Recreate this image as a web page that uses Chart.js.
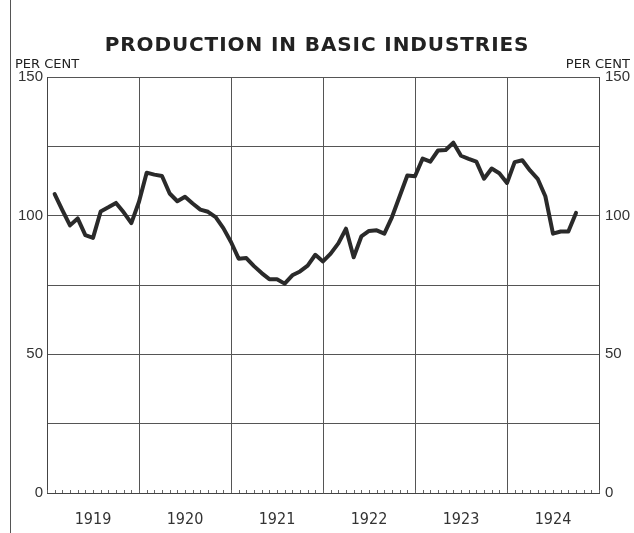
<!DOCTYPE html>
<html>
<head>
<meta charset="utf-8">
<script src="https://cdn.jsdelivr.net/npm/chart.js@4"></script>
<style>
  html, body { margin:0; padding:0; background:#fff; }
  #wrap { position:relative; width:634px; height:533px; overflow:hidden; }
  #edge { position:absolute; left:10px; top:0; width:1px; height:533px; background:#555; }
  .title { position:absolute; left:0; width:634px; top:32px; text-align:center; font:bold 20px "DejaVu Sans"; letter-spacing:0.9px; color:#222; }
  .unit { position:absolute; top:56px; font:13px "DejaVu Sans"; color:#222; }
  canvas { position:absolute; left:0; top:0; }
</style>
</head>
<body>
<div id="wrap">
  <div id="edge"></div>
  <canvas id="chart" width="634" height="533"></canvas>
  <div class="title">PRODUCTION IN BASIC INDUSTRIES</div>
  <div class="unit" style="left:15px">PER CENT</div>
  <div class="unit" style="right:4px">PER CENT</div>
</div>
<script>
// monthly index, 1919 = months 1..12, plotted at month end
const years = ['1919', '1920', '1921', '1922', '1923', '1924']
const firstMonth = 1
const production = [
  107.8, 102, 96.5, 99, 93, 92, 101.5, 103, 104.6, 101.2, 97.3, 105,      // 1919
  115.5, 114.8, 114.3, 108, 105.2, 106.8, 104.4, 102.2, 101.4, 99.5, 95.5, 90.5, // 1920
  84.5, 84.7, 81.8, 79.3, 77.1, 77.1, 75.5, 78.5, 79.9, 82, 85.9, 83.5,  // 1921
  86.3, 90, 95.3, 85, 92.5, 94.5, 94.7, 93.5, 99.5, 107, 114.5, 114.2,   // 1922
  120.6, 119.5, 123.5, 123.7, 126.3, 121.6, 120.5, 119.5, 113.3, 117, 115.3, 111.8, // 1923
  119.3, 120, 116.3, 113.3, 107, 93.5, 94.3, 94.3, 101                   // 1924
]
const yLabels = [0, 50, 100, 150]

const points = production.map((v, i) => ({ x: firstMonth + i, y: v }))

// short month ticks on the base line
const monthTicks = {
  id: 'monthTicks',
  afterDatasetsDraw(chart) {
    const { ctx, scales: { x }, chartArea } = chart
    ctx.save()
    ctx.strokeStyle = '#666'
    ctx.lineWidth = 1
    for (let m = 0; m <= years.length * 12; m++) {
      const px = Math.round(x.getPixelForValue(m)) + 0.5
      ctx.beginPath()
      ctx.moveTo(px, chartArea.bottom)
      ctx.lineTo(px, chartArea.bottom - 3)
      ctx.stroke()
    }
    ctx.restore()
  }
}

const tickFont = { family: 'Liberation Sans', size: 15 }
const yTicks = {
  stepSize: 25, color: '#333', font: tickFont, padding: 4,
  callback: v => yLabels.includes(v) ? String(v) : ''
}

new Chart(document.getElementById('chart'), {
  type: 'line',
  data: {
    datasets: [{
      data: points,
      borderColor: '#2a2a2a', borderWidth: 4,
      borderJoinStyle: 'round', borderCapStyle: 'round',
      pointRadius: 0, tension: 0, fill: false
    }]
  },
  options: {
    responsive: false, animation: false,
    layout: { padding: { top: 77, left: 0, right: 0, bottom: 0 } },
    plugins: { legend: { display: false }, tooltip: { enabled: false } },
    scales: {
      x: {
        type: 'linear', min: 0, max: years.length * 12,
        afterFit: s => { s.height = 40 },
        border: { color: '#444' },
        grid: {
          color: c => c.tick && c.tick.value % 12 === 0 ? '#555' : 'rgba(0,0,0,0)',
          drawTicks: false
        },
        ticks: {
          stepSize: 1, autoSkip: false, maxRotation: 0, padding: 17,
          color: '#333', font: { family: "'DejaVu Sans Condensed', 'DejaVu Sans'", size: 16 },
          callback: v => v % 12 === 6 ? years[(v - 6) / 12] : ''
        }
      },
      y: {
        position: 'left', min: 0, max: 150,
        afterFit: s => { s.width = 47 },
        border: { color: '#444' },
        grid: { color: '#555', drawTicks: false },
        ticks: yTicks
      },
      y2: {
        position: 'right', min: 0, max: 150,
        afterFit: s => { s.width = 35 },
        border: { color: '#444' },
        grid: { display: false, drawTicks: false },
        ticks: { ...yTicks, padding: 6 }
      }
    }
  },
  plugins: [monthTicks]
})
</script>
</body>
</html>
